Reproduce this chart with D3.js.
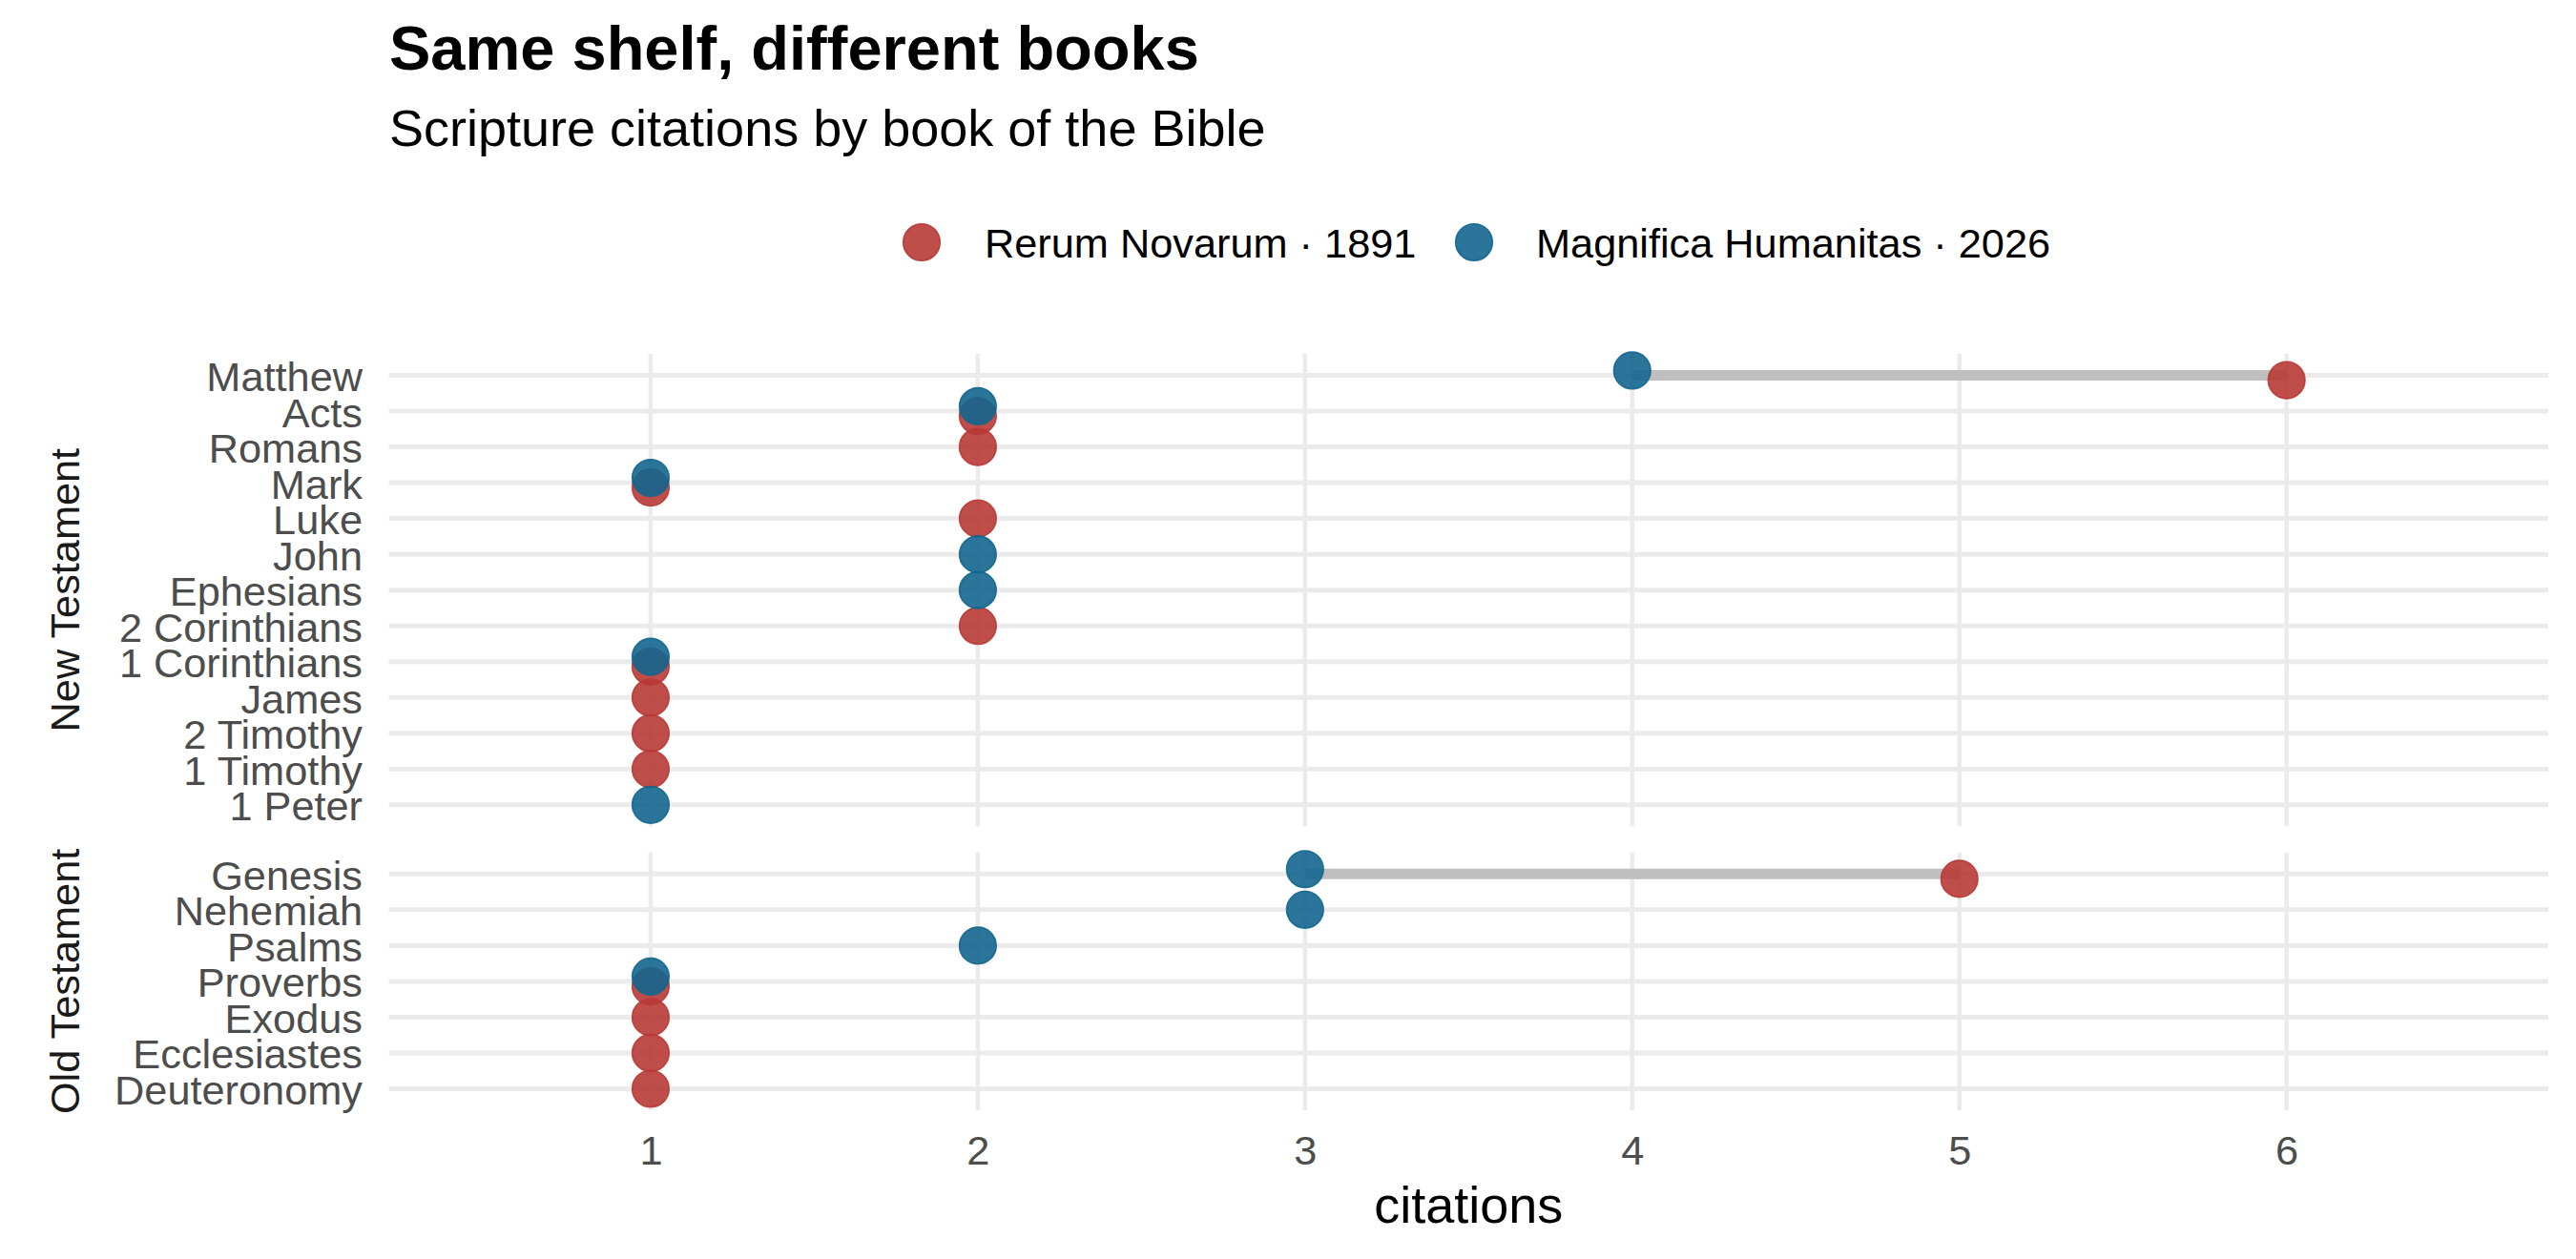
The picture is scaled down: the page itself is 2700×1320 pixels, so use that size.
<!DOCTYPE html>
<html>
<head>
<meta charset="utf-8">
<script src="https://cdn.jsdelivr.net/npm/d3@7"></script>
<style>
  html, body { margin: 0; padding: 0; background: #ffffff; }
  svg { display: block; font-family: "Liberation Sans", Arial, Helvetica, sans-serif; }
</style>
</head>
<body>
<svg id="chart" width="2700" height="1320"></svg>
<script>
// ---------------- data ----------------
const seriesNames = ["Rerum Novarum · 1891", "Magnifica Humanitas · 2026"];
const seriesColors = ["#b83a36", "#13668e"];

const panelNames = ["New Testament", "Old Testament"];

const ntBooks = ["Matthew", "Acts", "Romans", "Mark", "Luke", "John", "Ephesians",
  "2 Corinthians", "1 Corinthians", "James", "2 Timothy", "1 Timothy", "1 Peter"];
const ntRerum =     [6, 2, 2, 1, 2, null, null, 2, 1, 1, 1, 1, null];
const ntMagnifica = [4, 2, null, 1, null, 2, 2, null, 1, null, null, null, 1];

const otBooks = ["Genesis", "Nehemiah", "Psalms", "Proverbs", "Exodus", "Ecclesiastes", "Deuteronomy"];
const otRerum =     [5, null, null, 1, 1, 1, 1];
const otMagnifica = [3, 3, 2, 1, null, null, null];

const xTicks = [1, 2, 3, 4, 5, 6];
const xLimits = [0.5, 6.5];

const titleText = "Same shelf, different books";
const subtitleText = "Scripture citations by book of the Bible";
const xTitle = "citations";

// ---------------- layout ----------------
const svg = d3.select("#chart");
const plotLeft = 407.6, plotRight = 2671;
const plotTop = 371, plotBottom = 1164;
const panelGap = 27.5;
const gridColor = "#ebebeb";
const pointR = 19.3;
const dodge = 0.135; // in row-step units
const smallFont = 43.3;

const panels = [
  { name: panelNames[0], books: ntBooks, rn: ntRerum, mh: ntMagnifica },
  { name: panelNames[1], books: otBooks, rn: otRerum, mh: otMagnifica }
];

const xPad = (xLimits[1] - xLimits[0]) * 0.05;
const x = d3.scaleLinear()
  .domain([xLimits[0] - xPad, xLimits[1] + xPad])
  .range([plotLeft, plotRight]);

// panel heights proportional to (n - 1 + 1.2) units
const units = panels.map(p => p.books.length - 1 + 1.2);
const totalUnits = d3.sum(units);
const step = (plotBottom - plotTop - panelGap * (panels.length - 1)) / totalUnits;
let cursor = plotTop;
panels.forEach((p, i) => {
  p.top = cursor;
  p.bottom = cursor + units[i] * step;
  cursor = p.bottom + panelGap;
  p.y = d3.scalePoint().domain(p.books).range([p.top, p.bottom]).padding(0.6);
});

// ---------------- titles ----------------
svg.append("text")
  .attr("x", 408).attr("y", 73)
  .attr("font-size", 65).attr("font-weight", "bold").attr("fill", "#000")
  .text(titleText);
svg.append("text")
  .attr("x", 408).attr("y", 153)
  .attr("font-size", 54).attr("fill", "#000")
  .text(subtitleText);

// ---------------- legend ----------------
const legend = svg.append("g");
const legendItems = [
  { name: seriesNames[0], color: seriesColors[0], cx: 966, tx: 1032 },
  { name: seriesNames[1], color: seriesColors[1], cx: 1545, tx: 1610 }
];
legendItems.forEach(d => {
  legend.append("circle")
    .attr("cx", d.cx).attr("cy", 254).attr("r", pointR)
    .attr("fill", d.color).attr("fill-opacity", 0.9)
    .attr("stroke", d.color).attr("stroke-opacity", 0.9).attr("stroke-width", 1.6);
  legend.append("text")
    .attr("x", d.tx).attr("y", 269.5)
    .attr("font-size", smallFont).attr("fill", "#000")
    .text(d.name);
});

// ---------------- panels ----------------
panels.forEach(p => {
  const g = svg.append("g");
  const ys = p.y;
  // horizontal grid
  g.selectAll("line.hgrid").data(p.books).join("line")
    .attr("x1", plotLeft).attr("x2", plotRight)
    .attr("y1", d => ys(d)).attr("y2", d => ys(d))
    .attr("stroke", gridColor).attr("stroke-width", 5);
  // vertical grid
  g.selectAll("line.vgrid").data(xTicks).join("line")
    .attr("x1", d => x(d)).attr("x2", d => x(d))
    .attr("y1", p.top).attr("y2", p.bottom)
    .attr("stroke", gridColor).attr("stroke-width", 4.5);

  // y axis labels
  const yAxis = d3.axisLeft(ys).tickSize(0).tickPadding(27.6);
  const ya = g.append("g").attr("transform", `translate(${plotLeft},0)`).call(yAxis);
  ya.select(".domain").remove();
  ya.selectAll("text")
    .attr("font-family", "'Liberation Sans', Arial, sans-serif")
    .attr("font-size", smallFont).attr("fill", "#4d4d4d").attr("dy", "0.37em");

  // strip label
  const cy = (p.top + p.bottom) / 2;
  g.append("text")
    .attr("transform", `translate(83,${cy}) rotate(-90)`)
    .attr("text-anchor", "middle")
    .attr("font-size", smallFont).attr("fill", "#1a1a1a")
    .text(p.name);

  const rows = p.books.map((b, i) => ({ book: b, rn: p.rn[i], mh: p.mh[i] }));
  const both = r => r.rn != null && r.mh != null;
  // segments
  g.selectAll("line.seg").data(rows.filter(both)).join("line")
    .attr("x1", r => x(r.mh)).attr("x2", r => x(r.rn))
    .attr("y1", r => ys(r.book)).attr("y2", r => ys(r.book))
    .attr("stroke", "#bfbfbf").attr("stroke-width", 11);

  // Rerum Novarum points
  g.selectAll("circle.rn").data(rows.filter(r => r.rn != null)).join("circle")
    .attr("cx", r => x(r.rn))
    .attr("cy", r => ys(r.book) + (both(r) ? dodge * step : 0))
    .attr("r", pointR)
    .attr("fill", seriesColors[0]).attr("fill-opacity", 0.9)
    .attr("stroke", seriesColors[0]).attr("stroke-opacity", 0.9).attr("stroke-width", 1.6);
  // Magnifica Humanitas points
  g.selectAll("circle.mh").data(rows.filter(r => r.mh != null)).join("circle")
    .attr("cx", r => x(r.mh))
    .attr("cy", r => ys(r.book) - (both(r) ? dodge * step : 0))
    .attr("r", pointR)
    .attr("fill", seriesColors[1]).attr("fill-opacity", 0.9)
    .attr("stroke", seriesColors[1]).attr("stroke-opacity", 0.9).attr("stroke-width", 1.6);
});

// ---------------- x axis ----------------
const xAxis = d3.axisBottom(x).tickValues(xTicks).tickSize(0).tickPadding(0).tickFormat(d3.format("d"));
const xa = svg.append("g").attr("transform", `translate(0,${plotBottom})`).call(xAxis);
xa.select(".domain").remove();
xa.selectAll("text")
  .attr("font-family", "'Liberation Sans', Arial, sans-serif")
  .attr("font-size", smallFont).attr("fill", "#4d4d4d")
  .attr("y", 57).attr("dy", 0);

svg.append("text")
  .attr("x", (plotLeft + plotRight) / 2).attr("y", 1282)
  .attr("text-anchor", "middle")
  .attr("font-size", 54).attr("fill", "#000")
  .text(xTitle);
</script>
</body>
</html>
